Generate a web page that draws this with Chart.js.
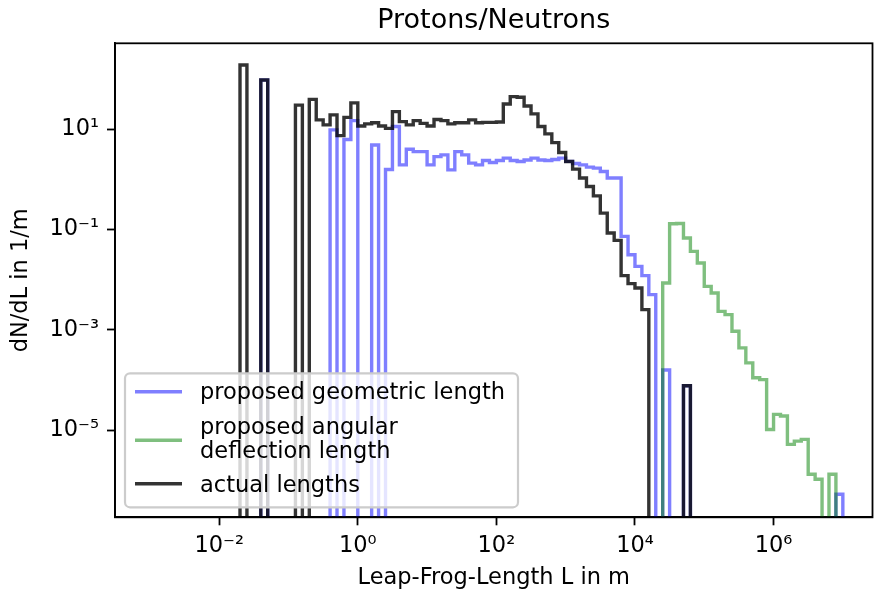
<!DOCTYPE html>
<html>
<head>
<meta charset="utf-8">
<title>Protons/Neutrons</title>
<script src="https://cdn.jsdelivr.net/npm/chart.js@4.4.1/dist/chart.umd.min.js"></script>
<style>
  html, body { margin: 0; padding: 0; background: #fff; }
  canvas { display: block; }
</style>
</head>
<body>
<canvas id="myChart" width="874" height="592"></canvas>
<script>
// log bins, 10 per decade, first edge at 10^-1.7
const binFirstExp = -1.7;
const binStepExp = 0.1;

// dN/dL per bin, 0 = empty bin
const geometricFirstBin = 3;
const geometricValues = [
  96.6, 0, 0, 0, 0, 0, 0, 0, 0, 0,
  9.77, 0, 6.31, 15.0, 0, 0, 4.9, 0, 1.58, 11.4,
  1.96, 4.03, 3.61, 3.61, 1.96, 2.87, 3.10, 1.56, 3.61, 3.10,
  2.12, 1.96, 2.39, 2.18, 2.39, 2.67, 2.39, 2.29, 2.45, 2.67,
  2.45, 2.39, 2.51, 2.67, 2.3, 2.09, 1.96, 1.77, 1.69, 1.45,
  1.07, 1.07, 0.0733, 0.0316, 0.0185, 0.0121, 0.00505, 0, 1.58e-4, 0,
  0, 7.67e-5, 0, 0, 0, 0, 0, 0, 0, 0,
  0, 0, 0, 0, 0, 0, 0, 0, 0, 0,
  0, 0, 0, 5.25e-7
];

const angularFirstBin = 61;
const angularValues = [
  0.00863, 0.131, 0.133, 0.068, 0.0368, 0.0216, 0.0074, 0.00546, 0.00234, 0.00202,
  9.38e-4, 4.38e-4, 2.20e-4, 1.11e-4, 1.02e-4, 1.03e-5, 2.06e-5, 1.91e-5, 5.19e-6, 6.03e-6,
  6.53e-6, 1.32e-6, 1.05e-6, 0, 1.32e-6
];

const actualFirstBin = 0;
const actualValues = [
  193, 0, 0, 96.6, 0, 0, 0, 0, 30.5, 0,
  39.8, 15.5, 12.3, 19.5, 7.5, 17.4, 33.9, 11.7, 12.9, 13.6,
  11.7, 10.5, 22.6, 14.3, 12.3, 15.0, 13.2, 11.7, 15.8, 15.0,
  12.9, 13.6, 13.6, 15.5, 13.6, 13.8, 13.8, 14.1, 32.2, 45.0,
  43.7, 29.4, 20.4, 11.4, 8.13, 5.46, 3.45, 2.29, 1.61, 1.07,
  0.726, 0.473, 0.214, 0.0855, 0.061, 0.0121, 0.00836, 0.00687, 0.00254, 0,
  0, 0, 0, 0, 7.67e-5
];

const seriesLabels = ['proposed geometric length', 'proposed angular\ndeflection length', 'actual lengths'];
const seriesColors = ['rgba(0,0,255,0.5)', 'rgba(0,128,0,0.5)', 'rgba(0,0,0,0.8)'];

const xTickValues = [1e-2, 1e0, 1e2, 1e4, 1e6];
const xTickLabels = ['10⁻²', '10⁰', '10²', '10⁴', '10⁶'];
const yTickValues = [1e-5, 1e-3, 1e-1, 1e1];
const yTickLabels = ['10⁻⁵', '10⁻³', '10⁻¹', '10¹'];

const FONT = 'DejaVu Sans';
const FS = 22.5;

// outline of a step histogram, empty bins drop below the axis
function stepPoints(values, firstBin) {
  const floor = 1e-9;
  const pts = [];
  values.forEach(function (v, i) {
    const lo = Math.pow(10, binFirstExp + (firstBin + i) * binStepExp);
    const hi = Math.pow(10, binFirstExp + (firstBin + i + 1) * binStepExp);
    const y = v > 0 ? v : floor;
    pts.push({x: lo, y: y}, {x: hi, y: y});
  });
  pts.unshift({x: pts[0].x, y: floor});
  pts.push({x: pts[pts.length - 1].x, y: floor});
  return pts;
}

function histSet(i, values, firstBin, order) {
  return {
    label: seriesLabels[i],
    data: stepPoints(values, firstBin),
    borderColor: seriesColors[i],
    backgroundColor: seriesColors[i],
    borderWidth: 3.4,
    borderJoinStyle: 'miter',
    pointRadius: 0,
    tension: 0,
    fill: false,
    clip: 0,
    order: order
  };
}

// frame round the axes
const frame = {
  id: 'frame',
  afterDatasetsDraw(chart) {
    const a = chart.chartArea;
    const ctx = chart.ctx;
    ctx.save();
    ctx.strokeStyle = '#000';
    ctx.lineWidth = 1.8;
    ctx.strokeRect(a.left, a.top, a.right - a.left, a.bottom - a.top);
    ctx.restore();
  }
};

// matplotlib style legend, lower left inside the axes
const boxLegend = {
  id: 'boxLegend',
  afterDraw(chart) {
    const a = chart.chartArea;
    const ctx = chart.ctx;
    const x0 = a.left + 10, y1 = a.bottom - 10;
    const w = 393, h = 134;
    const y0 = y1 - h;
    ctx.save();
    ctx.beginPath();
    ctx.roundRect(x0, y0, w, h, 5);
    ctx.fillStyle = 'rgba(255,255,255,0.8)';
    ctx.fill();
    ctx.strokeStyle = '#cccccc';
    ctx.lineWidth = 2.2;
    ctx.stroke();

    const handleY = [18.5, 67, 110.5];
    const textY = [[19.5], [55, 79], [112.5]];
    ctx.font = FS + 'px "' + FONT + '"';
    ctx.textBaseline = 'middle';
    ctx.textAlign = 'left';
    chart.data.datasets.forEach(function (ds, i) {
      ctx.beginPath();
      ctx.moveTo(x0 + 10, y0 + handleY[i]);
      ctx.lineTo(x0 + 57, y0 + handleY[i]);
      ctx.strokeStyle = ds.borderColor;
      ctx.lineWidth = 3.4;
      ctx.stroke();
      ctx.fillStyle = '#000';
      ds.label.split('\n').forEach(function (t, k) {
        ctx.fillText(t, x0 + 75, y0 + textY[i][k]);
      });
    });
    ctx.restore();
  }
};

const tickFont = {family: FONT, size: FS};

new Chart(document.getElementById('myChart'), {
  type: 'line',
  data: {
    datasets: [
      histSet(0, geometricValues, geometricFirstBin, 3),
      histSet(1, angularValues, angularFirstBin, 2),
      histSet(2, actualValues, actualFirstBin, 1)
    ]
  },
  options: {
    responsive: false,
    animation: false,
    devicePixelRatio: 1,
    layout: {padding: {left: 0, right: 1.5, top: 0, bottom: 0}},
    plugins: {
      legend: {display: false},
      tooltip: {enabled: false},
      title: {
        display: true,
        fullSize: false,
        text: 'Protons/Neutrons',
        color: '#000',
        font: {family: FONT, size: 27, weight: 'normal', lineHeight: 1.2},
        padding: {top: 4.5, bottom: 6.4}
      }
    },
    scales: {
      x: {
        type: 'logarithmic',
        bounds: 'data',
        min: Math.pow(10, -3.504),
        max: Math.pow(10, 7.428),
        afterBuildTicks: function (s) { s.ticks = xTickValues.map(function (v) { return {value: v}; }); },
        afterFit: function (s) { s.height = 74.7; },
        ticks: {
          autoSkip: false, maxRotation: 0, padding: 7, color: '#000', font: tickFont,
          callback: function (v) { return xTickLabels[xTickValues.indexOf(v)]; }
        },
        grid: {drawOnChartArea: false, drawTicks: true, tickLength: 8, tickWidth: 1.8, tickColor: '#000'},
        border: {display: true, color: '#000', width: 1.8},
        title: {display: true, text: 'Leap-Frog-Length L in m', color: '#000', font: tickFont, padding: {top: 0, bottom: 0}}
      },
      y: {
        type: 'logarithmic',
        bounds: 'data',
        min: Math.pow(10, -6.739),
        max: Math.pow(10, 2.718),
        afterBuildTicks: function (s) { s.ticks = yTickValues.map(function (v) { return {value: v}; }); },
        afterFit: function (s) { s.width = 115; },
        ticks: {
          autoSkip: false, padding: 8, color: '#000', font: tickFont,
          callback: function (v) { return yTickLabels[yTickValues.indexOf(v)]; }
        },
        grid: {drawOnChartArea: false, drawTicks: true, tickLength: 8, tickWidth: 1.8, tickColor: '#000'},
        border: {display: true, color: '#000', width: 1.8},
        title: {display: true, text: 'dN/dL in 1/m', color: '#000', font: tickFont, padding: {top: 8, bottom: 0}}
      }
    }
  },
  plugins: [frame, boxLegend]
});
</script>
</body>
</html>
